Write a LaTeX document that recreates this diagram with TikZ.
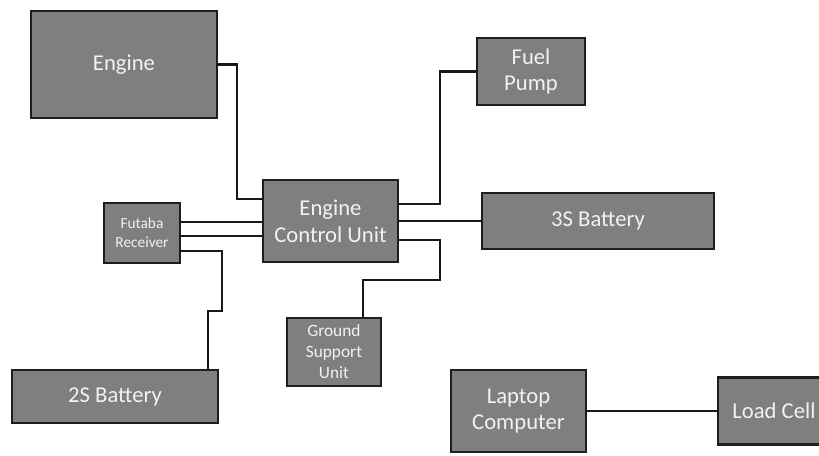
\documentclass[tikz,border=0pt]{standalone}
\usepackage{fontspec}
\setmainfont{Carlito}
\usetikzlibrary{positioning}
\definecolor{boxgray}{HTML}{7F7F7F}
\definecolor{edgegray}{HTML}{1E1E1E}
\definecolor{textgray}{HTML}{F2F2F2}
\newcommand{\bigtext}{\fontsize{17}{20}\selectfont}

\begin{document}
\begin{tikzpicture}[x=0.75pt, y=-0.75pt,
  blk/.style={draw=edgegray, fill=boxgray, line width=1.6pt, text=textgray, align=center, inner sep=0pt, outer sep=0pt, font=\bigtext},
  wire/.style={line width=1.9pt, black!90}]
\useasboundingbox (0,0) rectangle (819,455);
\node[blk, minimum width=101.25pt, minimum height=61.5pt] (ecu) at (330.5,221) {Engine\\Control Unit};
\node[blk, minimum width=174pt, minimum height=42pt, right=63pt of ecu] (bat3) {3S Battery};
\node[blk, minimum width=81pt, minimum height=50.25pt, above right=56.25pt and 59.25pt of ecu] (fuel) {Fuel\\Pump};
\node[blk, minimum width=139.5pt, minimum height=80.25pt, above left=46.5pt and 34.5pt of ecu] (engine) {Engine};
\node[blk, minimum width=57pt, minimum height=45pt, left=62.25pt of ecu, yshift=-9pt, font=\fontsize{11.5}{14.25}\selectfont] (futaba) {Futaba\\Receiver};
\node[blk, minimum width=70.5pt, minimum height=51pt, below=42pt of ecu, xshift=2.6pt, font=\fontsize{13}{15.75}\selectfont] (gsu) {Ground\\Support\\Unit};
\node[blk, minimum width=154.5pt, minimum height=39.75pt, below=80.25pt of futaba, xshift=-20.25pt] (bat2) {2S Battery};
\node[blk, minimum width=101.25pt, minimum height=61.5pt, right=52.5pt of gsu, yshift=-44.25pt] (laptop) {Laptop\\Computer};
\node[blk, minimum width=84pt, minimum height=50.25pt, right=99pt of laptop] (load) {Load Cell};
% wiring
\draw[wire] (engine.east) -- ++(20,0) |- ([yshift=16.5pt]ecu.west);
\draw[wire] ([yshift=12.75pt]ecu.east) -- ++(42,0) |- (fuel.west);
\draw[wire] (ecu.east) -- (bat3.west);
\draw[wire] ([yshift=-14.25pt]ecu.east) -- ++(42,0) -- ++(0,40) -| ([xshift=21.75pt]gsu.north);
\draw[wire] ([yshift=8.25pt]futaba.east) -- ([yshift=-0.75pt]ecu.west);
\draw[wire] ([yshift=-2.25pt]futaba.east) -- ([yshift=-11.25pt]ecu.west);
\draw[wire] ([yshift=-13.5pt]futaba.east) -- ++(42,0) -- ++(0,60) -| ([xshift=69.75pt]bat2.north);
\draw[wire] (laptop.east) -- (load.west);
\end{tikzpicture}
\end{document}
